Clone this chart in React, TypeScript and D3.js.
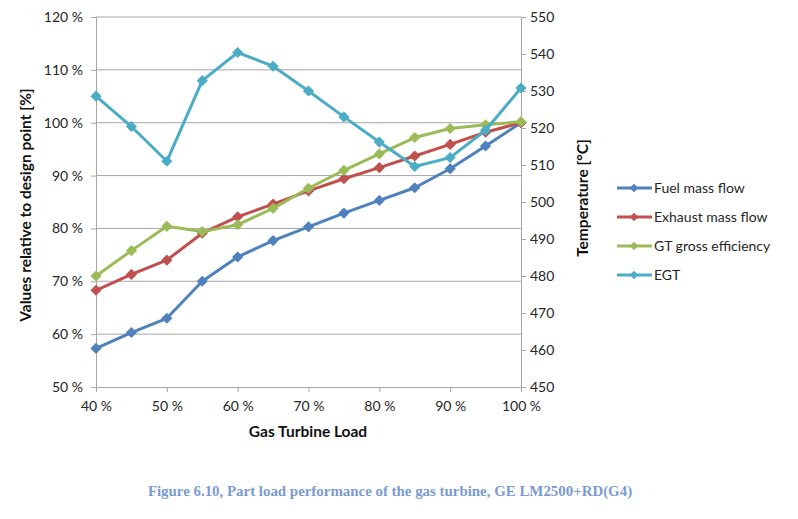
import React, { useEffect, useRef } from 'react';
import * as d3 from 'd3';

const loads = [40, 45, 50, 55, 60, 65, 70, 75, 80, 85, 90, 95, 100];
const fuelFlow = [57.3, 60.3, 63, 70, 74.6, 77.7, 80.3, 82.9, 85.3, 87.7, 91.3, 95.6, 100];
const exhaustFlow = [68.3, 71.3, 74, 79.1, 82.2, 84.6, 87.1, 89.4, 91.5, 93.7, 95.9, 98.2, 100];
const gtEfficiency = [71, 75.8, 80.4, 79.4, 80.7, 83.8, 87.6, 91, 94.1, 97.2, 98.9, 99.6, 100.2];
const egt = [528.6, 520.4, 511, 532.8, 540.4, 536.7, 530, 523, 516.2, 509.6, 512, 519.4, 530.8];

const leftTicks = [50, 60, 70, 80, 90, 100, 110, 120];
const rightTicks = [450, 460, 470, 480, 490, 500, 510, 520, 530, 540, 550];
const xTicks = [40, 50, 60, 70, 80, 90, 100];

const seriesNames = ['Fuel mass flow', 'Exhaust mass flow', 'GT gross efficiency', 'EGT'];
const seriesColors = ['#4f81bd', '#c0504d', '#9bbb59', '#4bacc6'];

const FONT = 'Lato, "Open Sans", sans-serif';

const App: React.FC = () => {
  const svgRef = useRef<SVGSVGElement>(null);

  useEffect(() => {
    const svg = d3.select(svgRef.current);
    svg.selectAll('*').remove();

    const left = 96, right = 521, top = 17, bottom = 387;

    const x = d3.scaleLinear().domain([40, 100]).range([left, right]);
    const yL = d3.scaleLinear().domain([50, 120]).range([bottom, top]);
    const yR = d3.scaleLinear().domain([450, 550]).range([bottom, top]);

    // gridlines
    svg.append('g')
      .selectAll('line')
      .data(leftTicks.slice(1))
      .enter()
      .append('line')
      .attr('x1', left)
      .attr('x2', right)
      .attr('y1', d => yL(d))
      .attr('y2', d => yL(d))
      .style('stroke', '#a6a6a6')
      .style('stroke-width', 1);

    // axes
    const gl = svg.append('g').attr('transform', `translate(${left},0)`)
      .call(d3.axisLeft(yL).tickValues(leftTicks).tickSize(5).tickFormat(d => `${d} %`));
    const gr = svg.append('g').attr('transform', `translate(${right},0)`)
      .call(d3.axisRight(yR).tickValues(rightTicks).tickSize(5).tickFormat(d => `${d}`));
    const gb = svg.append('g').attr('transform', `translate(0,${bottom})`)
      .call(d3.axisBottom(x).tickValues(xTicks).tickSize(5).tickFormat(d => `${d} %`));

    [gl, gr, gb].forEach(g => {
      g.select('.domain').style('stroke', '#a6a6a6');
      g.selectAll('.tick line').style('stroke', '#a6a6a6');
      g.selectAll('.tick text')
        .style('font-family', FONT)
        .style('font-size', '14px')
        .style('fill', '#262626');
    });
    gl.selectAll('.tick text').attr('x', -13);
    gr.selectAll('.tick text').attr('x', 9);
    gb.selectAll('.tick text').attr('y', 14);

    // axis titles
    const titleStyle = (t: d3.Selection<SVGTextElement, unknown, null, undefined>) =>
      t.style('font-family', FONT)
        .style('font-weight', 'bold')
        .style('font-size', '15.5px')
        .style('fill', '#111');

    svg.append('text')
      .attr('transform', `translate(31,205) rotate(-90)`)
      .attr('text-anchor', 'middle')
      .call(titleStyle)
      .text('Values relative to design point [%]');

    svg.append('text')
      .attr('transform', `translate(588,198) rotate(-90)`)
      .attr('text-anchor', 'middle')
      .call(titleStyle)
      .text('Temperature [°C]');

    svg.append('text')
      .attr('x', 308)
      .attr('y', 437)
      .attr('text-anchor', 'middle')
      .call(titleStyle)
      .text('Gas Turbine Load');

    // series
    const allSeries = [
      { values: fuelFlow, y: yL },
      { values: exhaustFlow, y: yL },
      { values: gtEfficiency, y: yL },
      { values: egt, y: yR },
    ];
    const marker = d3.symbol().type(d3.symbolSquare).size(62);

    allSeries.forEach((s, i) => {
      const pts = loads.map((l, j) => [x(l), s.y(s.values[j])] as [number, number]);
      svg.append('path')
        .attr('d', d3.line()(pts))
        .style('fill', 'none')
        .style('stroke', seriesColors[i])
        .style('stroke-width', 3)
        .style('stroke-linejoin', 'round');
      svg.append('g')
        .selectAll('path')
        .data(pts)
        .enter()
        .append('path')
        .attr('d', marker)
        .attr('transform', d => `translate(${d[0]},${d[1]}) rotate(45)`)
        .style('fill', seriesColors[i]);
    });

    // legend
    const lg = svg.append('g');
    seriesNames.forEach((name, i) => {
      const yy = 188 + i * 29;
      lg.append('line')
        .attr('x1', 617).attr('x2', 652)
        .attr('y1', yy).attr('y2', yy)
        .style('stroke', seriesColors[i])
        .style('stroke-width', 3);
      lg.append('path')
        .attr('d', d3.symbol().type(d3.symbolSquare).size(36)())
        .attr('transform', `translate(634,${yy}) rotate(45)`)
        .style('fill', seriesColors[i]);
      lg.append('text')
        .attr('x', 654)
        .attr('y', yy + 5)
        .style('font-family', FONT)
        .style('font-size', '14px')
        .style('fill', '#262626')
        .text(name);
    });

    // caption
    svg.append('text')
      .attr('x', 390)
      .attr('y', 496)
      .attr('text-anchor', 'middle')
      .style('font-family', '"Liberation Serif", "DejaVu Serif", serif')
      .style('font-weight', 'bold')
      .style('font-size', '14.9px')
      .style('fill', '#7b9bd1')
      .text('Figure 6.10, Part load performance of the gas turbine, GE LM2500+RD(G4)');
  }, []);

  return (
    <svg ref={svgRef} width={798} height={519}
      style={{ position: 'absolute', left: 0, top: 0, background: '#fff' }} />
  );
};

export default App;
